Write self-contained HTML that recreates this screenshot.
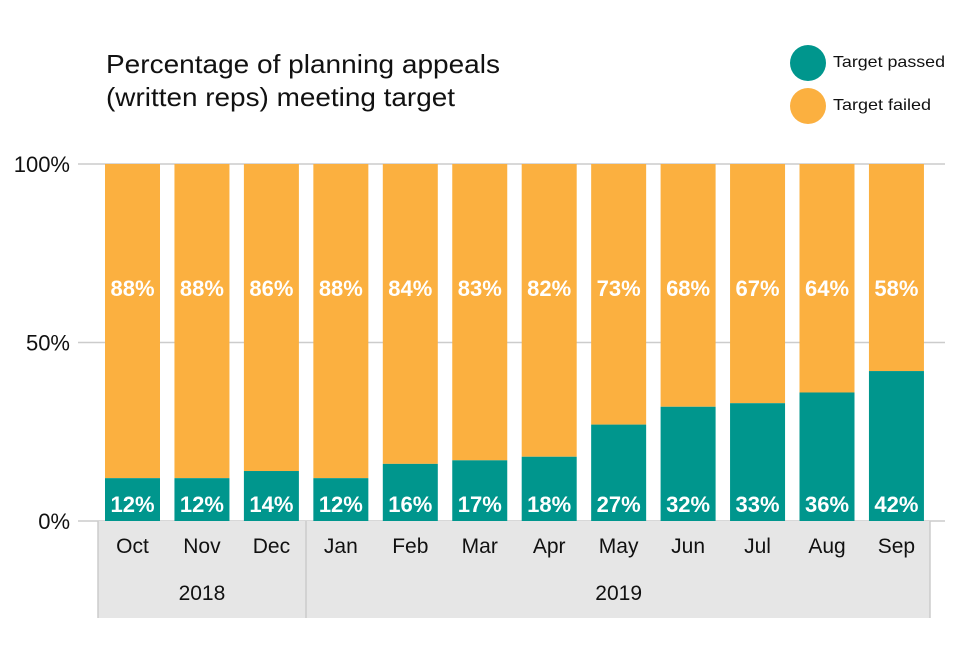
<!DOCTYPE html>
<html><head><meta charset="utf-8"><style>
body{margin:0;background:#fff;font-family:"Liberation Sans",Arial,sans-serif}
</style></head><body>
<svg id="c" width="960" height="640" xmlns="http://www.w3.org/2000/svg" font-family="Liberation Sans, Arial, sans-serif">
<text x="106" y="73" font-size="26" textLength="394" lengthAdjust="spacingAndGlyphs" fill="#111">Percentage of planning appeals</text>
<text x="106" y="106" font-size="26" textLength="349" lengthAdjust="spacingAndGlyphs" fill="#111">(written reps) meeting target</text>
<g>
<circle cx="808" cy="63" r="18" fill="#00968d"/>
<text x="833" y="67" font-size="16" textLength="112" lengthAdjust="spacingAndGlyphs" fill="#111">Target passed</text>
<circle cx="808" cy="106" r="18" fill="#fbb040"/>
<text x="833" y="110" font-size="16" textLength="98" lengthAdjust="spacingAndGlyphs" fill="#111">Target failed</text>
</g>
<g id="grid"></g><g id="bands"></g><g id="bars"></g>
</svg>
<script>
const months=["Oct","Nov","Dec","Jan","Feb","Mar","Apr","May","Jun","Jul","Aug","Sep"];
const passed=[12,12,14,12,16,17,18,27,32,33,36,42];
const failed=[88,88,86,88,84,83,82,73,68,67,64,58];
const yTicks=[0,50,100];
const yTickLabels=["0%","50%","100%"];
const years=[{label:"2018",start:0,end:3},{label:"2019",start:3,end:12}];
const NS="http://www.w3.org/2000/svg";
const y0=521,y1=164;
const y=v=>y0-(y0-y1)*v/100;
const step=69.45,bw=55,x0=105;
const x=i=>x0+i*step;
function mk(t,a,p){const e=document.createElementNS(NS,t);for(const k in a)e.setAttribute(k,a[k]);p.appendChild(e);return e;}
const grid=document.getElementById('grid');
yTicks.forEach((t,i)=>{
 const l=mk('line',{x1:78,x2:945,y1:y(t),y2:y(t),stroke:'#ccc','stroke-width':1.5},grid);
 
 
 const tx=mk('text',{x:70,y:y(t)+8,'text-anchor':'end','font-size':22,fill:'#111'},grid);
 tx.textContent=yTickLabels[i];
 
 
});
const bands=document.getElementById('bands');
const bg=mk('rect',{x:98,y:y0,width:832,height:97,fill:'#e6e6e6'},bands);


[98,306,930].forEach(xx=>{const l=mk('line',{x1:xx,x2:xx,y1:y0,y2:618,stroke:'#ccc','stroke-width':1.5},bands);
 
 });
years.forEach(yr=>{
 const cx=(x(yr.start)+x(yr.end-1)+bw)/2;
 const t=mk('text',{x:cx,y:600,'text-anchor':'middle','font-size':21,fill:'#111'},bands);
 t.textContent=yr.label;
 
 
});
const bars=document.getElementById('bars');
months.forEach((m,i)=>{
 const g=mk('g',{},bars);
 
 
 const f=mk('rect',{x:x(i),y:y(100),width:bw,height:y(passed[i])-y(100),fill:'#fbb040'},g);
 
 
 const p=mk('rect',{x:x(i),y:y(passed[i]),width:bw,height:y0-y(passed[i]),fill:'#00968d'},g);
 
 
 const cx=x(i)+bw/2;
 const ft=mk('text',{x:cx,y:296,'text-anchor':'middle','font-size':22,'font-weight':'bold',fill:'#fff'},g);
 ft.textContent=failed[i]+'%';
 
 
 const pt=mk('text',{x:cx,y:512,'text-anchor':'middle','font-size':22,'font-weight':'bold',fill:'#fff'},g);
 pt.textContent=passed[i]+'%';
 
 
 const ml=mk('text',{x:cx,y:553,'text-anchor':'middle','font-size':21,fill:'#111'},g);
 ml.textContent=m;
 
 
});
</script>
</body></html>
